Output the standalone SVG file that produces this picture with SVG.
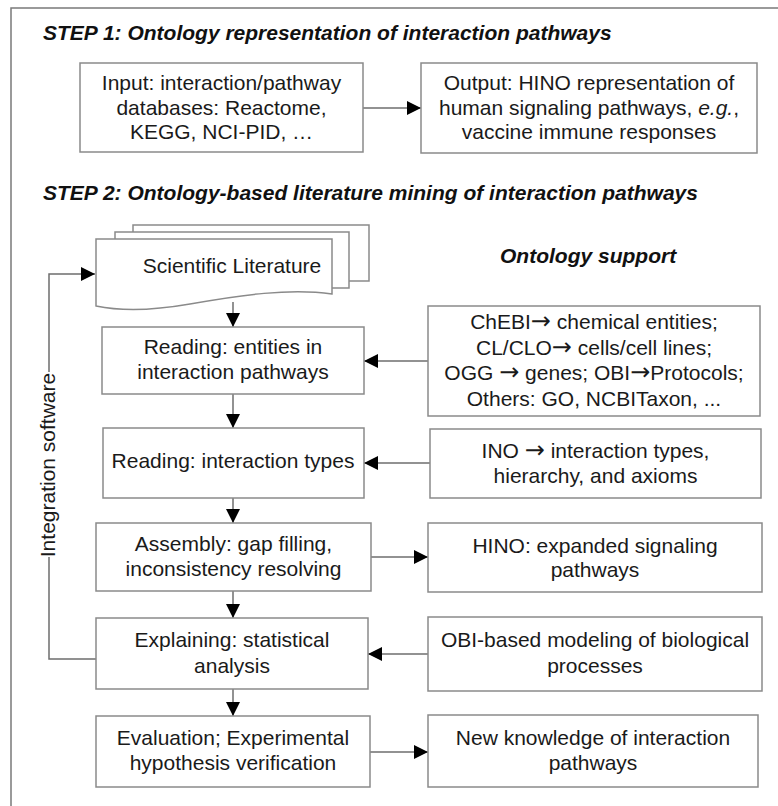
<svg xmlns="http://www.w3.org/2000/svg" width="778" height="806" viewBox="0 0 778 806">
<defs>
<style>
.t{font-family:"Liberation Sans",Arial,sans-serif;font-size:21px;fill:#1a1a1a;text-anchor:middle}
.h{font-family:"Liberation Sans",Arial,sans-serif;font-size:21px;font-weight:bold;font-style:italic;fill:#111}
.a{font-family:"DejaVu Sans",sans-serif;font-size:24px}
.box{fill:#fff;stroke:#8a8a8a;stroke-width:1.5}
.c{fill:none;stroke:#6e6e6e;stroke-width:1.5}
</style>
<marker id="ah" markerUnits="userSpaceOnUse" markerWidth="15" markerHeight="15" refX="14" refY="7" orient="auto">
<path d="M0,0 L14,7 L0,14 z" fill="#000"/>
</marker>
</defs>
<rect x="0" y="0" width="778" height="806" fill="#fff"/>
<rect x="11" y="8" width="800" height="830" fill="none" stroke="#7a7a7a" stroke-width="1.5"/>

<text class="h" x="43" y="40">STEP 1: Ontology representation of interaction pathways</text>
<text class="h" x="43" y="200">STEP 2: Ontology-based literature mining of interaction pathways</text>
<text class="h" x="500" y="263">Ontology support</text>

<g id="connectors">
<line class="c" x1="363" y1="108" x2="421" y2="108" marker-end="url(#ah)"/>
<line class="c" x1="233" y1="302" x2="233" y2="327" marker-end="url(#ah)"/>
<line class="c" x1="233" y1="394" x2="233" y2="428" marker-end="url(#ah)"/>
<line class="c" x1="233" y1="498" x2="233" y2="523" marker-end="url(#ah)"/>
<line class="c" x1="233" y1="591" x2="233" y2="618" marker-end="url(#ah)"/>
<line class="c" x1="233" y1="689" x2="233" y2="716" marker-end="url(#ah)"/>
<line class="c" x1="428" y1="361" x2="364" y2="361" marker-end="url(#ah)"/>
<line class="c" x1="430" y1="463" x2="364" y2="463" marker-end="url(#ah)"/>
<line class="c" x1="371" y1="557" x2="428" y2="557" marker-end="url(#ah)"/>
<line class="c" x1="428" y1="654" x2="368" y2="654" marker-end="url(#ah)"/>
<line class="c" x1="370" y1="752" x2="428" y2="752" marker-end="url(#ah)"/>
<path class="c" d="M96,659 H49 V557"/>
<path class="c" d="M49,372 V274 H95" marker-end="url(#ah)"/>
<text class="t" transform="translate(55,465) rotate(-90)" x="0" y="0">Integration software</text>
</g>

<g id="input">
<rect class="box" x="80" y="63" width="283" height="89"/>
<text class="t" x="221.5" y="90">Input: interaction/pathway</text>
<text class="t" x="221.5" y="115">databases: Reactome,</text>
<text class="t" x="221.5" y="139">KEGG, NCI-PID, …</text>
</g>

<g id="output">
<rect class="box" x="421" y="63" width="336" height="90"/>
<text class="t" x="589" y="90">Output: HINO representation of</text>
<text class="t" x="589" y="115">human signaling pathways, <tspan font-style="italic">e.g.</tspan>,</text>
<text class="t" x="589" y="139">vaccine immune responses</text>
</g>

<g id="literature">
<rect class="box" x="133" y="225" width="236" height="56"/>
<rect class="box" x="115" y="232" width="234" height="56"/>
<path class="box" d="M96,239 H332 V294 C290,288 240,295 190,304 C150,311 120,311 96,306 Z"/>
<text class="t" x="232" y="273">Scientific Literature</text>
</g>

<g id="reading-entities">
<rect class="box" x="102" y="327" width="262" height="67"/>
<text class="t" x="233" y="354">Reading: entities in</text>
<text class="t" x="233" y="379">interaction pathways</text>
</g>

<g id="reading-types">
<rect class="box" x="103" y="428" width="261" height="70"/>
<text class="t" x="233" y="468">Reading: interaction types</text>
</g>

<g id="assembly">
<rect class="box" x="96" y="523" width="275" height="68"/>
<text class="t" x="233.5" y="551">Assembly: gap filling,</text>
<text class="t" x="233.5" y="576">inconsistency resolving</text>
</g>

<g id="explaining">
<rect class="box" x="96" y="618" width="272" height="71"/>
<text class="t" x="232" y="647">Explaining: statistical</text>
<text class="t" x="232" y="673">analysis</text>
</g>

<g id="evaluation">
<rect class="box" x="96" y="716" width="274" height="71"/>
<text class="t" x="233" y="745">Evaluation; Experimental</text>
<text class="t" x="233" y="770">hypothesis verification</text>
</g>

<g id="chebi">
<rect class="box" x="428" y="306" width="332" height="110"/>
<text class="t" x="594" y="329">ChEBI<tspan class="a">→</tspan> chemical entities;</text>
<text class="t" x="594" y="355">CL/CLO<tspan class="a">→</tspan> cells/cell lines;</text>
<text class="t" x="594" y="380">OGG <tspan class="a">→</tspan> genes; OBI<tspan class="a">→</tspan>Protocols;</text>
<text class="t" x="594" y="406">Others: GO, NCBITaxon, ...</text>
</g>

<g id="ino">
<rect class="box" x="430" y="429" width="331" height="69"/>
<text class="t" x="595.5" y="458">INO <tspan class="a">→</tspan> interaction types,</text>
<text class="t" x="595.5" y="483">hierarchy, and axioms</text>
</g>

<g id="hino">
<rect class="box" x="428" y="523" width="334" height="69"/>
<text class="t" x="595" y="553">HINO: expanded signaling</text>
<text class="t" x="595" y="577">pathways</text>
</g>

<g id="obi">
<rect class="box" x="428" y="617" width="334" height="74"/>
<text class="t" x="595" y="647">OBI-based modeling of biological</text>
<text class="t" x="595" y="673">processes</text>
</g>

<g id="new-knowledge">
<rect class="box" x="428" y="715" width="330" height="72"/>
<text class="t" x="593" y="745">New knowledge of interaction</text>
<text class="t" x="593" y="770">pathways</text>
</g>
</svg>
